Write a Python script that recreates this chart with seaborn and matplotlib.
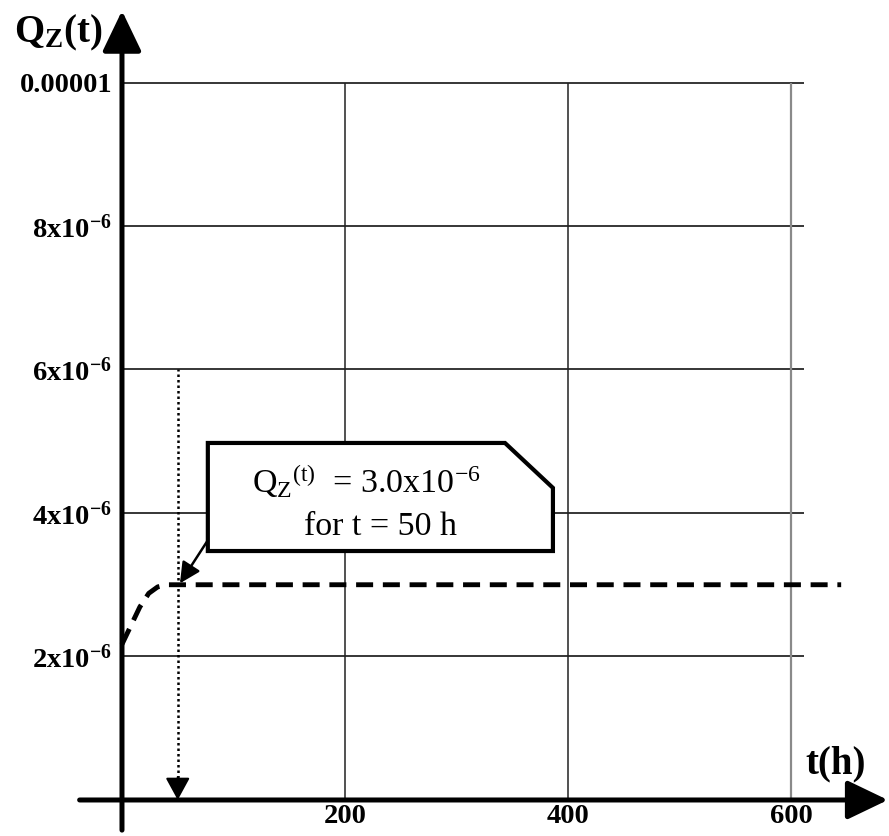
import numpy as np
import matplotlib.pyplot as plt
import seaborn as sns
from matplotlib.patches import Polygon

# data
t_hours = [0, 8, 16, 24, 32, 40, 50, 645]
q_z = [2.17e-6, 2.43e-6, 2.69e-6, 2.88e-6, 2.97e-6, 3.0e-6, 3.0e-6, 3.0e-6]

x_ticks = [200, 400, 600]
x_labels = ['200', '400', '600']
y_ticks = [2e-6, 4e-6, 6e-6, 8e-6, 1e-5]
y_labels = ['2x10$^{\\mathbf{-6}}$', '4x10$^{\\mathbf{-6}}$', '6x10$^{\\mathbf{-6}}$',
            '8x10$^{\\mathbf{-6}}$', '0.00001']

t_mark = 50
q_mark = 3.0e-6

sns.set_style('white')
plt.rcParams['font.family'] = ['Liberation Serif', 'DejaVu Serif']
plt.rcParams['mathtext.fontset'] = 'custom'
plt.rcParams['mathtext.rm'] = 'Liberation Serif'
plt.rcParams['mathtext.it'] = 'Liberation Serif:italic'
plt.rcParams['mathtext.bf'] = 'Liberation Serif:bold'
plt.rcParams['text.color'] = 'black'
plt.rcParams['xtick.color'] = 'black'
plt.rcParams['ytick.color'] = 'black'

fig = plt.figure(figsize=(8.89, 8.36), dpi=100)
ax = fig.add_axes([0, 0, 1, 1])

# grid, bounded to the tick range
ax.hlines(y_ticks, 0, 612, color='black', lw=1.1, zorder=1)
ax.vlines(x_ticks[:-1], 0, y_ticks[-1], color='#222222', lw=1.1, zorder=1)
ax.vlines(x_ticks[-1:], 0, y_ticks[-1], color='#8a8a8a', lw=1.6, zorder=1)

# curve
sns.lineplot(x=t_hours, y=q_z, ax=ax, color='black', lw=3.5,
             linestyle=(0, (3.5, 2)), zorder=3)

xlim = (-109.4, 687.9)
ylim = (-0.502e-6, 1.115e-5)
ax.set_xlim(xlim)
ax.set_ylim(ylim)

# axes with arrows
for s in ax.spines.values():
    s.set_visible(False)
ax.spines['left'].set_position(('data', 0))
ax.spines['bottom'].set_position(('data', 0))

arrow = dict(arrowstyle='-|>,head_length=0.5,head_width=0.24', color='black',
             lw=3.6, shrinkA=0, shrinkB=0, mutation_scale=50)
ax.annotate('', xy=(xlim[1] - 1, 0), xytext=(-38, 0), arrowprops=arrow, zorder=5)
ax.annotate('', xy=(0, 1.1e-5), xytext=(0, -0.42e-6), arrowprops=arrow, zorder=5)

ax.set_xticks(x_ticks, x_labels)
ax.set_yticks(y_ticks, y_labels)
ax.tick_params(length=0, labelsize=20.5)
ax.tick_params(axis='y', pad=7)
ax.tick_params(axis='x', pad=3)
for lab in ax.get_xticklabels() + ax.get_yticklabels():
    lab.set_fontweight('bold')

fig.text(14 / 889, 1 - 42 / 836, 'Q$_{\\mathbf{Z}}$(t)', fontsize=28,
         fontweight='bold', ha='left', va='baseline')
fig.text(805 / 889, 1 - 773 / 836, 't(h)', fontsize=28,
         fontweight='bold', ha='left', va='baseline')

# dotted drop line at t = 50 h, solid head at the axis
ax.vlines(t_mark, 0.3e-6, y_ticks[2], color='black', lw=1.8,
          linestyle=(0, (1, 1.2)), zorder=4)
ax.annotate('', xy=(t_mark, 0), xytext=(t_mark, 0.32e-6),
            arrowprops=dict(arrowstyle='-|>,head_length=0.55,head_width=0.3',
                            color='black', lw=1.5, shrinkA=0, shrinkB=0,
                            mutation_scale=25), zorder=4)

# callout box
box = Polygon([(77, 3.47e-6), (77, 4.976e-6), (343.5, 4.976e-6),
               (386.5, 4.35e-6), (386.5, 3.47e-6)], closed=True,
              facecolor='white', edgecolor='black', lw=3, zorder=6)
ax.add_patch(box)
ax.annotate('', xy=(t_mark + 2, q_mark + 0.02e-6), xytext=(77, 3.62e-6),
            arrowprops=dict(arrowstyle='-|>,head_length=0.5,head_width=0.25',
                            color='black', lw=1.8, shrinkA=0, shrinkB=0,
                            mutation_scale=25), zorder=6)
fig.text(366 / 889, 1 - 493 / 836,
         'Q$_{\\mathrm{Z}}{}^{\\mathrm{(t)}}$  = 3.0x10$^{-6}$',
         fontsize=24.5, ha='center', va='baseline', zorder=7)
fig.text(380 / 889, 1 - 535 / 836, 'for t = 50 h',
         fontsize=24.5, ha='center', va='baseline', zorder=7)

fig.savefig('out.png', dpi=100)
